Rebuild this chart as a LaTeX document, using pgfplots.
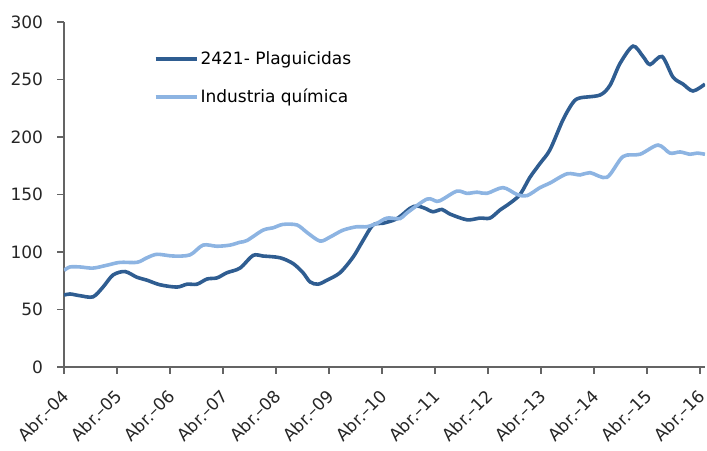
\documentclass[border=0pt]{standalone}
\usepackage{pgfplots}
\pgfplotsset{compat=1.18}
\usepackage{fontspec}
\setmainfont{DejaVu Sans}
\definecolor{darkb}{RGB}{47,93,145}
\definecolor{lightb}{RGB}{141,180,226}
\definecolor{axisgray}{RGB}{100,100,100}
\begin{document}
\begin{tikzpicture}
\begin{axis}[
  scale only axis, width=641pt, height=345pt,
  xmin=0, xmax=12.094, ymin=0, ymax=300,
  axis lines=left,
  axis line style={-, axisgray, line width=1.2pt},
  xtick={0,1,...,12},
  xticklabels={Abr.--04,Abr.--05,Abr.--06,Abr.--07,Abr.--08,Abr.--09,Abr.--10,Abr.--11,Abr.--12,Abr.--13,Abr.--14,Abr.--15,Abr.--16},
  ytick={0,50,...,300},
  tick style={axisgray, line width=1.2pt},
  tick align=outside, major tick length=6.5pt,
  /pgf/number format/assume math mode=true,
  every tick label/.append style={font=\fontsize{17}{19}\selectfont, text=black!85},
  xticklabel style={rotate=45, anchor=east, xshift=-9pt, yshift=-15pt},
  yticklabel style={xshift=-11pt},
  legend style={draw=none, fill=none, at={(rel axis cs:0.14,0.92)}, anchor=north west,
    font=\fontsize{17}{19}\selectfont, row sep=19pt, inner sep=0pt},
  legend cell align=left,
  legend image code/.code={\draw[#1] (0pt,0pt) -- (41pt,0pt);},
]
\coordinate (bl) at (rel axis cs:0,0);
\addplot[darkb, line width=3.6pt, smooth, tension=0.5] coordinates {
(0,62.5) (0.113,63.5) (0.302,62) (0.547,61) (0.736,69.5) (0.925,80) (1.151,83) (1.377,78)
(1.566,75.5) (1.811,71.5) (2.132,69.5) (2.321,72) (2.509,72) (2.698,76.5) (2.887,77.5)
(3.075,82) (3.321,86) (3.566,97) (3.755,96.5) (4.075,95) (4.321,90) (4.509,82) (4.642,74)
(4.792,72) (4.962,75.5) (5.208,82) (5.453,95.5) (5.642,110) (5.830,123.5) (6.019,125)
(6.283,129) (6.528,138) (6.660,140) (6.811,138) (6.962,135) (7.132,137) (7.283,133)
(7.604,128) (7.849,129.5) (8.038,129.5) (8.226,136.5) (8.415,142.5) (8.604,150)
(8.792,165) (8.981,177) (9.170,189) (9.415,215) (9.604,230) (9.736,234) (10.113,236.5)
(10.302,245) (10.491,264) (10.736,279) (10.925,270) (11.057,263) (11.283,270)
(11.491,252) (11.679,246) (11.868,240) (12.094,246)
};
\addlegendentry{2421- Plaguicidas}
\addplot[lightb, line width=3.6pt, smooth, tension=0.5] coordinates {
(0,84) (0.113,87) (0.302,87) (0.547,86) (0.811,88.5) (1.057,91) (1.377,91) (1.566,95)
(1.755,98) (2.057,96.5) (2.377,97.5) (2.623,106) (2.887,105) (3.132,106) (3.321,108.5)
(3.453,110) (3.755,119) (3.943,121) (4.132,124) (4.396,123.5) (4.585,117) (4.830,109.5)
(5.019,113) (5.264,119) (5.528,122) (5.717,122) (5.906,125) (6.094,129.5) (6.340,129)
(6.472,134) (6.849,146) (7.038,144) (7.151,146) (7.415,153) (7.604,151) (7.792,152)
(7.981,151) (8.283,156) (8.547,150) (8.736,149) (8.981,156) (9.170,160) (9.491,168)
(9.736,167) (9.925,169) (10.245,165) (10.547,183) (10.868,185) (11.208,193) (11.434,186)
(11.623,187) (11.811,185) (11.943,186) (12.094,185)
};
\addlegendentry{Industria química}
\end{axis}
\pgfresetboundingbox
\path (bl) ++(-64pt,-83pt) rectangle ++(707pt,450pt);
\end{tikzpicture}
\end{document}
